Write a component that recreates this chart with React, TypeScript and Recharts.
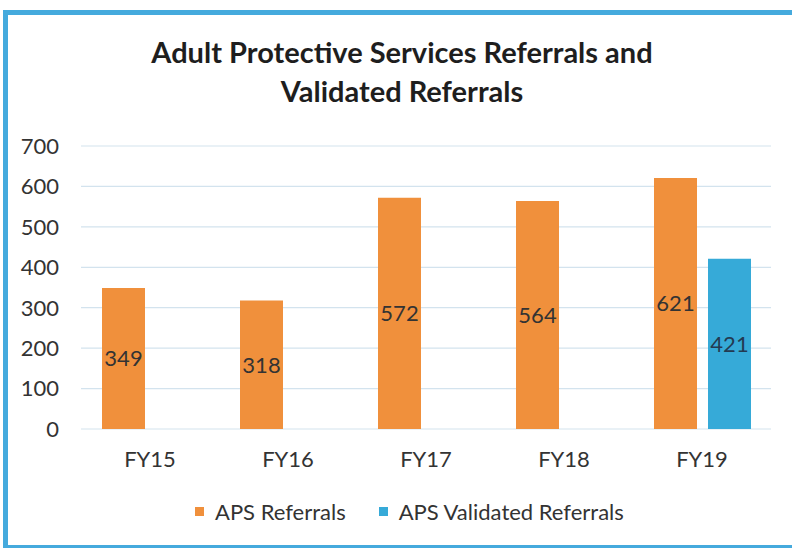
import React from 'react';
import { BarChart, Bar, XAxis, YAxis, CartesianGrid, Legend, LabelList } from 'recharts';

const categories = ['FY15', 'FY16', 'FY17', 'FY18', 'FY19'];
const apsReferrals = [349, 318, 572, 564, 621];
const apsValidated: (number | null)[] = [null, null, null, null, 421];
const yTicks = [0, 100, 200, 300, 400, 500, 600, 700];
const titleLines = ['Adult Protective Services Referrals and', 'Validated Referrals'];
const seriesNames = ['APS Referrals', 'APS Validated Referrals'];

const data = categories.map((c, i) => ({
  name: c,
  referrals: apsReferrals[i],
  validated: apsValidated[i],
}));

const FONT = 'Lato, "Open Sans", sans-serif';
const ORANGE = '#f0903c';
const BLUE = '#36aad8';

const renderLegend = (props: any) => {
  const payload = props.payload || [];
  return (
    <div
      style={{
        height: 30,
        width: 792,
        display: 'flex',
        alignItems: 'center',
        paddingLeft: 195,
        boxSizing: 'border-box',
        fontFamily: FONT,
        fontSize: 22,
        color: '#333',
      }}
    >
      {payload.map((p: any, i: number) => (
        <div key={i} style={{ display: 'flex', alignItems: 'center', marginRight: 33 }}>
          <span style={{ width: 9, height: 9, background: p.color, display: 'inline-block', marginRight: 11 }} />
          <span>{p.value}</span>
        </div>
      ))}
    </div>
  );
};

export default function App() {
  return (
    <div
      style={{
        position: 'fixed',
        left: 0,
        top: 0,
        width: 792,
        height: 548,
        overflow: 'hidden',
        background: '#ffffff',
      }}
    >
      <div
        style={{
          position: 'absolute',
          left: 3,
          top: 10,
          width: 830,
          height: 540,
          boxSizing: 'border-box',
          border: '5px solid #45aadd',
        }}
      />
      <div
        style={{
          position: 'absolute',
          left: 10,
          top: 32,
          width: 784,
          textAlign: 'center',
          fontFamily: FONT,
          fontWeight: 700,
          fontSize: 29,
          lineHeight: '39px',
          color: '#1e1e1e',
        }}
      >
        {titleLines.map((t, i) => (
          <div key={i}>{t}</div>
        ))}
      </div>
      <div style={{ position: 'absolute', left: 0, top: 0 }}>
        <BarChart
          width={792}
          height={548}
          data={data}
          margin={{ top: 146, right: 21, left: 0, bottom: 22 }}
          barSize={43}
          barGap={11}
        >
          <CartesianGrid vertical={false} stroke="#d3e3ee" strokeWidth={1.2} />
          <YAxis
            width={81}
            domain={[0, 700]}
            ticks={yTicks}
            axisLine={false}
            tickLine={false}
            tickMargin={16}
            tick={{ fill: '#333', fontSize: 22, fontFamily: FONT }}
          />
          <XAxis
            dataKey="name"
            height={67}
            axisLine={false}
            tickLine={false}
            tickMargin={16}
            tick={{ fill: '#333', fontSize: 22, fontFamily: FONT }}
          />
          <Legend verticalAlign="bottom" content={renderLegend} />
          <Bar dataKey="referrals" name={seriesNames[0]} fill={ORANGE} isAnimationActive={false}>
            <LabelList dataKey="referrals" position="center" fill="#333" fontSize={22} fontFamily={FONT} />
          </Bar>
          <Bar dataKey="validated" name={seriesNames[1]} fill={BLUE} isAnimationActive={false}>
            <LabelList dataKey="validated" position="center" fill="#233a52" fontSize={22} fontFamily={FONT} />
          </Bar>
        </BarChart>
      </div>
    </div>
  );
}
